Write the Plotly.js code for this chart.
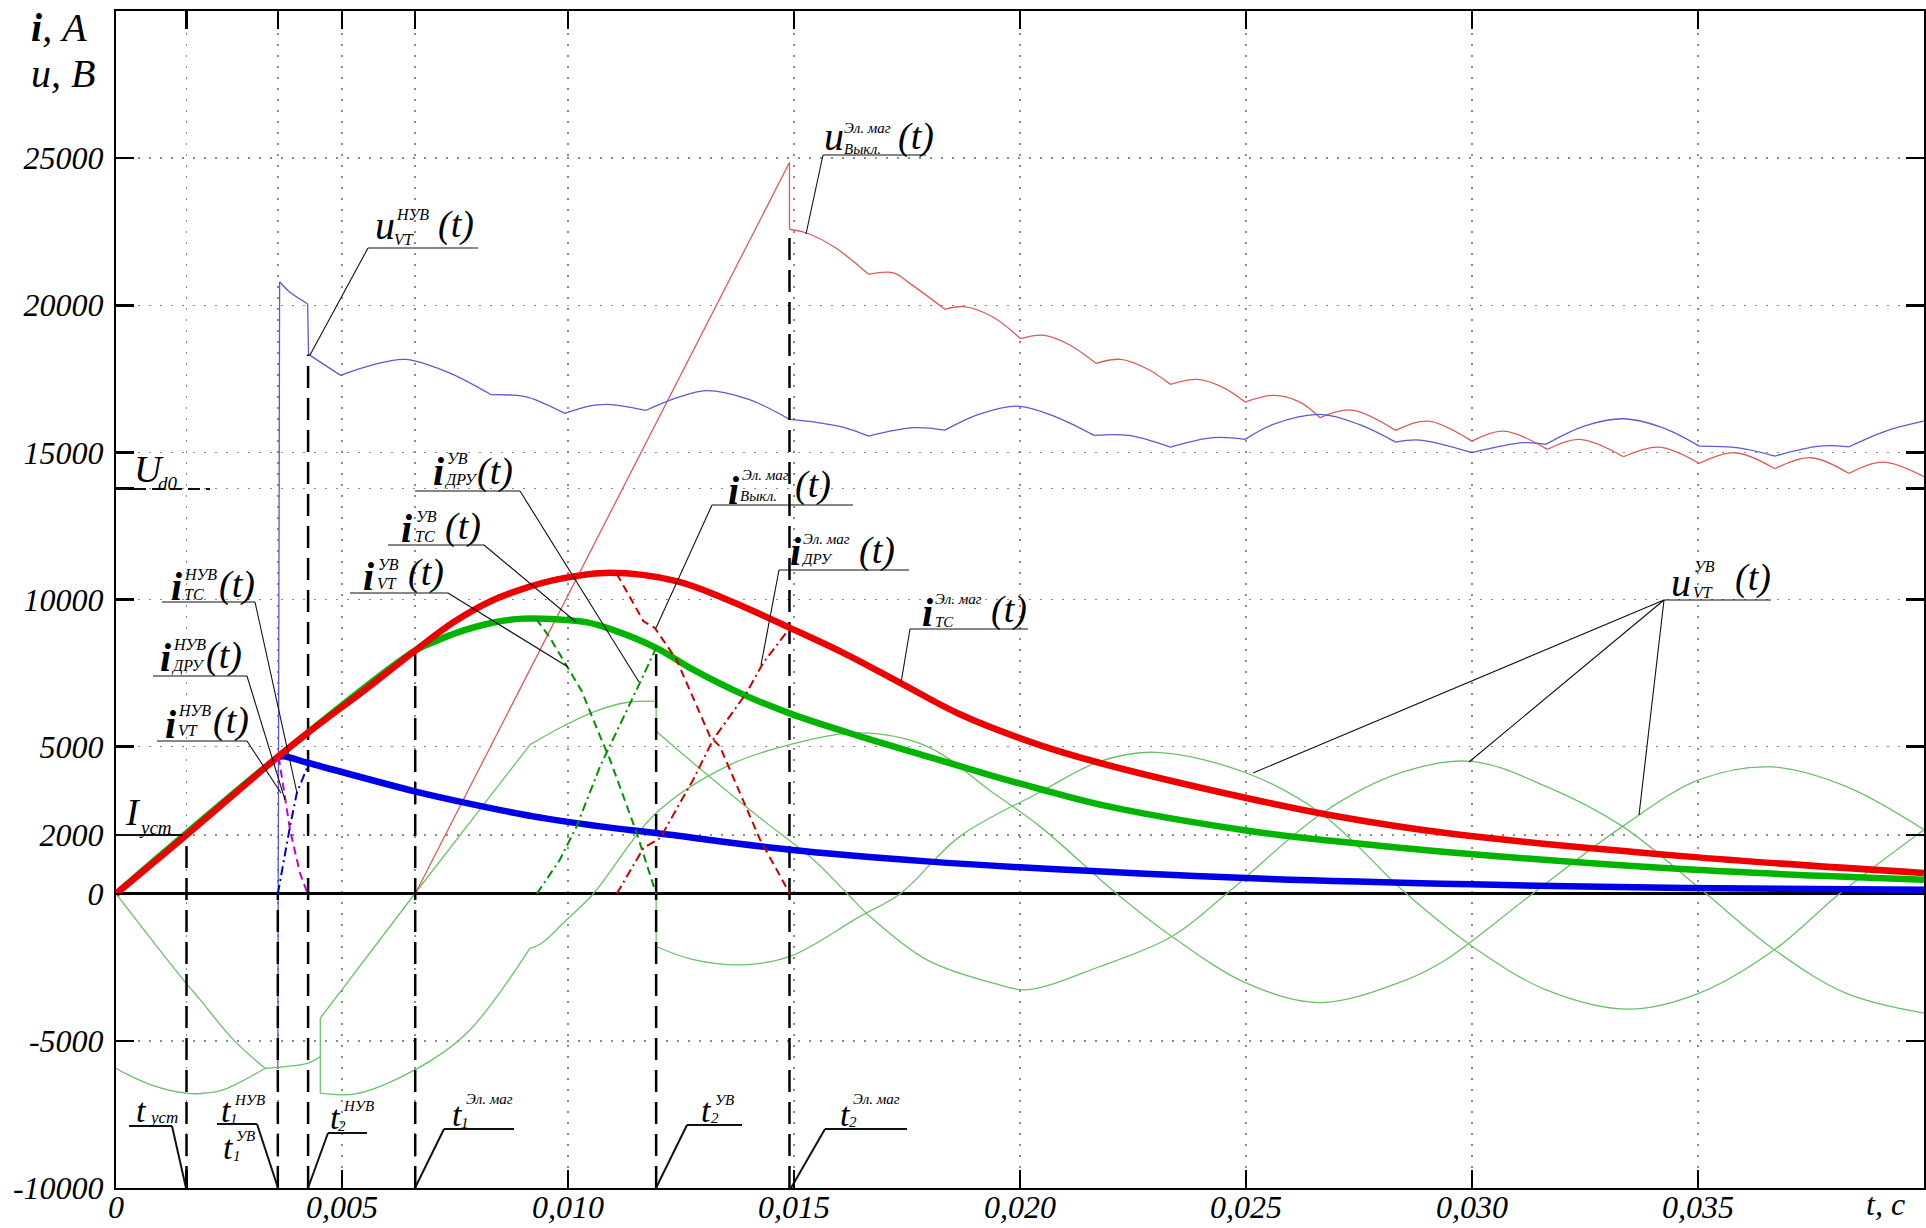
<!DOCTYPE html>
<html>
<head>
<meta charset="utf-8">
<script src="https://cdn.plot.ly/plotly-3.0.1.min.js"></script>
<style>html,body{margin:0;padding:0;background:#fff;}#chart{width:1926px;height:1228px;}</style>
</head>
<body>
<div id="chart"></div>
<script>
// ---------- characteristic instants, s ----------
const T_UST = 0.00156, T1 = 0.00358, T2_NUV = 0.00425, T1_EM = 0.00662, T2_UV = 0.01195, T2_EM = 0.0149;
const UD0 = 13770;

// ---------- thick currents ----------
const tRed = [0, 0.00156, 0.00357, 0.00425, 0.00558, 0.00662, 0.00749, 0.0083, 0.00912, 0.00982, 0.01093, 0.0124, 0.01351, 0.01491, 0.01609, 0.01735, 0.01867, 0.02044, 0.02177, 0.02501, 0.02694, 0.02942, 0.03473, 0.04];
const iRed = [0, 2000, 4636, 5476, 7016, 8265, 9250, 9950, 10420, 10700, 10906, 10622, 9999, 9036, 8186, 7166, 6100, 5050, 4444, 3254, 2650, 2063, 1270, 703];

const tGreen = [0, 0.00357, 0.00662, 0.0071, 0.0075, 0.0083, 0.009, 0.00982, 0.0104, 0.01093, 0.01195, 0.01277, 0.01388, 0.01498, 0.01646, 0.01794, 0.01941, 0.02044, 0.02177, 0.02501, 0.02694, 0.02942, 0.03473, 0.04];
const iGreen = [0, 4636, 8265, 8600, 8850, 9200, 9350, 9319, 9230, 9000, 8356, 7618, 6768, 6088, 5350, 4670, 4000, 3560, 3030, 2150, 1790, 1420, 830, 476];

const tBlue = [0.00357, 0.0037, 0.00426, 0.00661, 0.00776, 0.00923, 0.01071, 0.01195, 0.01491, 0.01794, 0.02, 0.02501, 0.03, 0.03473, 0.04];
const iBlue = [4636, 4670, 4444, 3480, 3080, 2630, 2290, 2063, 1496, 1100, 900, 533, 320, 193, 136];

// ---------- dashed currents ----------
const tDruNuv = [0.0036, 0.00374, 0.00385, 0.00407, 0.00424];
const iDruNuv = [4650, 3197, 2177, 703, 0];
const tVtNuv = [0.00358, 0.00374, 0.00385, 0.004, 0.00427];
const iVtNuv = [0, 1384, 2290, 3424, 4444];
const tDruUv = [0.0093, 0.0096, 0.00995, 0.0103, 0.01071, 0.01093, 0.01152, 0.01195];
const iDruUv = [9330, 8700, 7800, 6900, 5350, 4557, 2063, 0];
const tVtUv = [0.00931, 0.00982, 0.01019, 0.01071, 0.01159, 0.01195];
const iVtUv = [0, 1156, 2290, 4330, 7166, 8356];
const tVyklEm = [0.01108, 0.01167, 0.01192, 0.0124, 0.01314, 0.01336, 0.01425, 0.01491];
const iVyklEm = [10870, 9261, 9036, 7958, 5350, 5010, 1837, 0];
const tDruEm = [0.01108, 0.01167, 0.01204, 0.01277, 0.01321, 0.01395, 0.01432, 0.01491];
const iDruEm = [0, 1554, 1894, 3877, 5237, 6826, 7846, 9036];

// ---------- thin voltages (null = break between arcs) ----------
const tUvtNuv = [0.00358,0.00362,null, 0.00362,0.00385,0.00424,null, 0.00424,0.00426,null, 0.00426,0.00497,null,
  0.00497,0.0057,0.0064,0.0073,0.0083,null, 0.0083,0.0087,0.00912,0.00993,null, 0.00993,0.0104,0.01088,0.01172,null,
  0.01172,0.0124,0.01306,0.014,0.0149,null, 0.0149,0.01546,0.0161,0.01665,null, 0.01665,0.01766,0.01834,null,
  0.01834,0.0191,0.01995,0.0208,0.02164,null, 0.02164,0.0224,0.02333,null, 0.02333,0.02427,0.02498,null,
  0.02498,0.0256,0.02664,0.0275,0.02831,null, 0.02831,0.02885,0.03,null, 0.03,0.03114,0.03163,null,
  0.03163,0.0325,0.03335,0.0342,0.03503,null, 0.03503,0.0359,0.0367,null, 0.0367,0.03768,0.03834,null, 0.03834,0.0392,0.04];
const uUvtNuv = [-5900,20800,null, 20800,20440,20050,null, 20050,18330,null, 18330,17617,null,
  17617,17980,18160,17750,16957,null, 16957,16950,16870,16326,null, 16326,16550,16630,16424,null,
  16424,16850,17100,16800,16121,null, 16121,16030,15850,15553,null, 15553,15838,15757,null,
  15757,16300,16573,16200,15576,null, 15576,15576,15179,null, 15179,15498,15441,null,
  15441,15950,16291,15950,15349,null, 15349,15417,14988,null, 14988,15328,15270,null,
  15270,15900,16143,15850,15213,null, 15213,15150,14873,null, 14873,15213,15190,null, 15190,15750,16063];

const tUvykl = [0.00662,0.0149,null, 0.0149,0.0149,null, 0.0149,0.01529,0.0159,0.01665,null, 0.01665,0.0172,0.0176,0.01834,null,
  0.01834,0.01876,0.0194,0.02001,null, 0.02001,0.02054,0.0211,0.02168,null, 0.02168,0.02223,0.0228,0.02333,null,
  0.02333,0.02393,0.0245,0.02498,null, 0.02498,0.02562,0.0262,0.02664,null, 0.02664,0.02734,0.02831,null,
  0.02831,0.02902,0.03,null, 0.03,0.0307,0.03167,null, 0.03167,0.03238,0.03335,null, 0.03335,0.03414,0.03503,null,
  0.03503,0.03582,0.0367,null, 0.0367,0.0375,0.03834,null, 0.03834,0.03909,0.04];
const uUvykl = [0,24850,null, 24850,22583,null, 22583,22447,21970,21052,null, 21052,21100,20700,19862,null,
  19862,19953,19600,18865,null, 18865,18977,18650,18025,null, 18025,18161,17850,17311,null,
  17311,17481,17200,16709,null, 16709,16937,16700,16178,null, 16178,16437,15747,null,
  15747,16063,15383,null, 15383,15723,15100,null, 15100,15441,14851,null, 14851,15179,14624,null,
  14624,14988,14444,null, 14444,14818,14284,null, 14284,14669,14172];

// green thin u_VT^УВ branches
const tL1 = [0, 0.00079, 0.00155, 0.00186, 0.0026, 0.0033];
const uL1 = [0, -1565, -3037, -3600, -4965, -5930];
const tL2 = [0, 0.0002, 0.00079, 0.00155, 0.00186, 0.00237, 0.0033];
const uL2 = [-5930, -6100, -6500, -6778, -6790, -6666, -5930];
const tM = [0.0033, 0.00358, 0.00425, 0.00452];
const uM = [-5930, -5900, -5760, -5533];
const tP = [0.00452,0.00452,null, 0.00452,0.00661,0.00916,null, 0.00916,0.0099,0.0106,0.0113,0.01195,null, 0.01195,0.01195,null,
  0.01195,0.01277,0.01425,0.01543,0.01618,0.01668,0.01794,0.01941,0.02015,0.02177,0.02336,0.02457,0.02667,0.02841,0.02998,0.03164,0.03333,0.03503,0.03669,0.03827,0.04];
const uP = [-6778,-4229,null, -4229,0,5067,null, 5067,5700,6200,6500,6541,null, 6541,5520,null,
  5520,4444,2574,1156,0,-771,-2245,-3037,-3265,-2472,-1452,0,2721,4104,4500,3650,2290,193,-1905,-3378,-4059];
const tQ = [0.00452,0.0053,0.00661,0.00776,0.00916,null,
  0.00916,0.0094,0.00997,0.01056,0.01195,0.01351,0.01491,0.01646,0.01794,0.01941,0.02044,0.02214,0.02336,0.02501,0.02664,0.02855,0.02942,0.03134,0.03333,0.03503,0.03662,0.03827,0.04];
const uQ = [-6778,-6800,-5986,-4738,-1847,null,
  -1847,-1700,-884,0,2744,4330,5067,5464,5010,3424,2290,0,-1452,-3037,-3697,-2925,-2245,0,2290,3877,4309,3650,2177];
const tR = [0.01195,0.01195,null,
  0.01195,0.0128,0.01388,0.01491,0.01646,0.01735,0.01867,0.02044,0.02177,0.02302,0.02501,0.02667,0.02855,0.03001,0.03164,0.03348,0.03503,0.03669,0.03813,0.04];
const uR = [0,-1792,null,
  -1792,-2250,-2415,-2132,-771,0,1950,3450,4500,4806,4104,2721,0,-1792,-3265,-3922,-3378,-1905,0,2177];

// vertical marker lines
const tVert = [T_UST, T1, T2_NUV, T1_EM, T2_UV, T2_EM];
const vTop = [2000, 0, 18330, 8265, 8356, 22583];
const vBottom = -10000;

// axis ticks
const xTickVals = [0, T_UST, T1, 0.005, T1_EM, 0.010, 0.015, 0.020, 0.025, 0.030, 0.035];
const xTickText = ['0', '', '', '0,005', '', '0,010', '0,015', '0,020', '0,025', '0,030', '0,035'];
const yTickVals = [-10000, -5000, 0, 2000, 5000, 10000, UD0, 15000, 20000, 25000];
const yTickText = ['-10000', '-5000', '0', '2000', '5000', '10000', '', '15000', '20000', '25000'];

// ---------- drawing ----------
const FONT = 'Liberation Serif, Times New Roman, serif';
const ML = 116, MR = 2, MT = 11, MB = 40, W = 1926, H = 1228;
const PW = W - ML - MR, PH = H - MT - MB;
const PX = x => (x - ML) / PW;
const PY = y => (H - MB - y) / PH;

function line(x, y, color, width, dash, shape) {
  return {type: 'scatter', mode: 'lines', x, y, hoverinfo: 'skip', connectgaps: false,
    line: {color, width, dash: dash || 'solid', shape: shape || 'linear', smoothing: 1}};
}
const vx = [], vy = [];
tVert.forEach((t, k) => { vx.push(t, t, null); vy.push(vBottom, vTop[k], null); });

const GT = '#6cc06c';
const traces = [
  line(tL1, uL1, GT, 1.3, null, 'spline'),
  line(tL2, uL2, GT, 1.3, null, 'spline'),
  line(tM, uM, GT, 1.3, null, 'spline'),
  line(tP, uP, GT, 1.3, null, 'spline'),
  line(tQ, uQ, GT, 1.3, null, 'spline'),
  line(tR, uR, GT, 1.3, null, 'spline'),
  line(tUvykl, uUvykl, '#dd5a5a', 1.3, null, 'spline'),
  line(tUvtNuv, uUvtNuv, '#5a5ad2', 1.3, null, 'spline'),
  line(vx, vy, '#000', 2.5, '22px,10px'),
  line(tBlue, iBlue, '#0000e6', 6.5, null, 'spline'),
  line(tGreen, iGreen, '#00b400', 6.5, null, 'spline'),
  line(tRed, iRed, '#ee0000', 6.5, null, 'spline'),
  line(tDruUv, iDruUv, '#009000', 2, '8px,5px'),
  line(tVtUv, iVtUv, '#009000', 2, '9px,4px,2px,4px'),
  line(tVyklEm, iVyklEm, '#c80000', 2, '8px,5px'),
  line(tDruEm, iDruEm, '#c80000', 2, '9px,4px,2px,4px'),
  line(tDruNuv, iDruNuv, '#cc00cc', 2, '8px,5px'),
  line(tVtNuv, iVtNuv, '#0000c0', 2, '9px,4px,2px,4px')
];

function T(text, x, y, size, anchor) {
  return {xref: 'paper', yref: 'paper', x: PX(x), y: PY(y), text, showarrow: false,
    xanchor: anchor || 'left', yanchor: 'middle', borderpad: 0,
    font: {family: FONT, size, style: 'italic', color: '#000'}};
}
function L(x0, y0, x1, y1, w, dash) {
  return {type: 'line', xref: 'paper', yref: 'paper', x0: PX(x0), y0: PY(y0), x1: PX(x1), y1: PY(y1),
    line: {color: '#111', width: w || 1.1, dash: dash || 'solid'}, layer: 'above'};
}
// composite label: base letter, superscript, subscript, "(t)"
function lab(base, bx, by, sup, sx, sy, sub, ux, uy, tx, ty, big, small) {
  const a = [T(base, bx, by, big || 40, 'center')];
  if (sup) a.push(T(sup, sx, sy, small || 16));
  if (sub) a.push(T(sub, ux, uy, small || 16));
  if (tx) a.push(T('(t)', tx, ty, 38));
  return a;
}
const B = '<b>i</b>';
let ann = [];
ann.push(T(B + ', А', 30, 27, 40), T('u, В', 30, 73, 40));
ann = ann.concat(
  lab('u', 385, 226, 'НУВ', 395, 215, 'VT', 393, 240, 437, 225),
  lab('u', 834, 136, 'Эл. маг', 843, 128, 'Выкл.', 843, 149, 897, 136, 40, 15),
  lab('U', 149, 469, null, 0, 0, 'd0', 157, 483, null, null, 38, 19),
  lab('I', 133, 812, null, 0, 0, 'уст', 138, 827, null, null, 38, 19),
  lab(B, 176, 586, 'НУВ', 183, 574, 'ТС', 183, 594, 218, 584),
  lab(B, 165, 657, 'НУВ', 172, 645, 'ДРУ', 170, 666, 205, 655),
  lab(B, 170, 724, 'НУВ', 177, 711, 'VT', 177, 730, 212, 720),
  lab(B, 438, 471, 'УВ', 446, 459, 'ДРУ', 443, 480, 476, 471),
  lab(B, 406, 528, 'УВ', 415, 516, 'ТС', 414, 536, 444, 526),
  lab(B, 368, 576, 'УВ', 377, 564, 'VT', 376, 583, 407, 572),
  lab(B, 733, 490, 'Эл. маг', 741, 475, 'Выкл.', 739, 496, 794, 485, 40, 15),
  lab(B, 795, 551, 'Эл. маг', 802, 539, 'ДРУ', 800, 559, 858, 550, 40, 15),
  lab(B, 927, 612, 'Эл. маг', 934, 599, 'ТС', 934, 622, 990, 609, 40, 15),
  lab('u', 1681, 582, 'УВ', 1693, 566, 'VT', 1692, 592, 1734, 577),
  lab('t', 141, 1110, null, 0, 0, 'уст', 148, 1117, null, null, 34, 17),
  lab('t', 226, 1110, 'НУВ', 233, 1100, '1', 229, 1119, null, null, 34, 15),
  lab('t', 228, 1147, 'УВ', 235, 1136, '1', 232, 1156, null, null, 34, 15),
  lab('t', 335, 1117, 'НУВ', 342, 1106, '2', 337, 1126, null, null, 34, 15),
  lab('t', 457, 1114, 'Эл. маг', 465, 1099, '1', 460, 1123, null, null, 34, 15),
  lab('t', 706, 1110, 'УВ', 714, 1100, '2', 710, 1118, null, null, 34, 15),
  lab('t', 845, 1114, 'Эл. маг', 852, 1099, '2', 848, 1122, null, null, 34, 15)
);
ann.push(T('t, с', 1885, 1204, 32, 'center'));

const shapes = [
  L(368, 248, 478, 248), L(368, 248, 310, 355),
  L(823, 155, 926, 155), L(823, 155, 806, 234),
  L(116, 489, 210, 489, 2, '12px,6px'),
  L(116, 835, 183, 835, 2),
  L(162, 602, 255, 602), L(255, 602, 297, 793),
  L(153, 676, 247, 676), L(247, 676, 285, 800),
  L(157, 741, 247, 741), L(247, 741, 281, 793),
  L(415, 491, 520, 491), L(520, 491, 639, 682),
  L(388, 545, 484, 545), L(484, 545, 576, 622),
  L(350, 593, 448, 593), L(448, 593, 568, 667),
  L(712, 505, 853, 505), L(712, 505, 656, 628),
  L(779, 570, 909, 570), L(779, 570, 761, 665),
  L(910, 629, 1028, 629), L(910, 629, 901, 683),
  L(1664, 600, 1771, 600), L(1664, 600, 1253, 773), L(1664, 600, 1469, 762), L(1664, 600, 1639, 815),
  L(129, 1126, 172, 1126, 2), L(172, 1126, 186, 1188, 2),
  L(217, 1124, 257, 1124, 2), L(257, 1124, 278, 1188, 2),
  L(328, 1133, 367, 1133, 2), L(328, 1133, 308, 1188, 2),
  L(444, 1129, 514, 1129, 2), L(444, 1129, 415, 1188, 2),
  L(687, 1125, 742, 1125, 2), L(687, 1125, 656, 1188, 2),
  L(825, 1129, 907, 1129, 2), L(825, 1129, 791, 1188, 2)
];

const axisCommon = {
  ticks: 'inside', ticklen: 18, tickwidth: 2.5, tickcolor: '#000',
  showline: true, linecolor: '#000', linewidth: 2, mirror: 'ticks',
  showgrid: true, gridcolor: '#8a8a8a', gridwidth: 1.5, griddash: '2px,9px',
  tickfont: {family: FONT, size: 32, style: 'italic', color: '#000'},
  fixedrange: true
};
const layout = {
  width: W, height: H, margin: {l: ML, r: MR, t: MT, b: MB, pad: 0},
  paper_bgcolor: '#fff', plot_bgcolor: '#fff', showlegend: false,
  xaxis: Object.assign({}, axisCommon, {range: [0, 0.04], tickmode: 'array', tickvals: xTickVals, ticktext: xTickText,
    zeroline: false, ticklabelstandoff: -10}),
  yaxis: Object.assign({}, axisCommon, {range: [-10000, 30000], tickmode: 'array', tickvals: yTickVals, ticktext: yTickText,
    zeroline: true, zerolinecolor: '#000', zerolinewidth: 3, ticklabelstandoff: 4}),
  annotations: ann, shapes
};
Plotly.newPlot('chart', traces, layout, {displayModeBar: false, staticPlot: true});
</script>
</body>
</html>
